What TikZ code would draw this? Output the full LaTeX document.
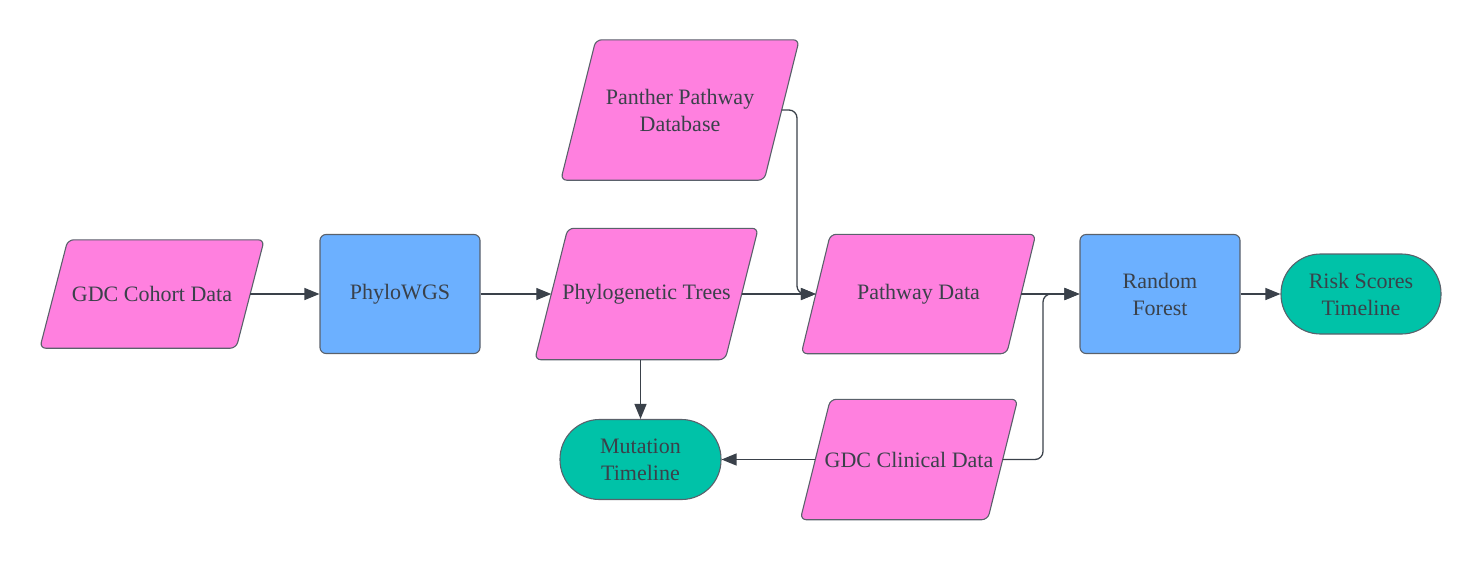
\documentclass[tikz,border=0pt]{standalone}
\usepackage{fontspec}
\setmainfont{Liberation Serif}
\usetikzlibrary{arrows.meta,backgrounds}
\definecolor{pinkc}{HTML}{FF80DF}
\definecolor{bluec}{HTML}{6CB0FF}
\definecolor{tealc}{HTML}{00C2A8}
\definecolor{bordc}{HTML}{5A616B}
\definecolor{textc}{HTML}{3A414A}
\definecolor{linec}{HTML}{3A414A}
\tikzset{
  base/.style={inner sep=0pt, align=center, text=textc,
    font=\fontsize{22}{27}\selectfont},
  outline/.style={draw=bordc, line width=1.1pt},
  databox/.style={base, rectangle},
  parafill/.style={outline, fill=pinkc, rounded corners=6pt},
  procbox/.style={base, outline, rectangle, fill=bluec, rounded corners=6pt, minimum width=160pt, minimum height=119pt},
  termbox/.style={base, outline, rectangle, fill=tealc, rounded corners=39.5pt, minimum width=160pt, minimum height=80pt},
  conn/.style={draw=linec, line width=1.3pt, -{Triangle[length=15pt,width=12pt]}},
}
\newcommand\parashape[2]{\path[parafill] ([xshift=#2/2]#1.north west) -- ([xshift=#2/2]#1.north east) -- ([xshift=-#2/2]#1.south east) -- ([xshift=-#2/2]#1.south west) -- cycle;}
\begin{document}
\begin{tikzpicture}[x=1pt,y=-1pt]
\useasboundingbox (0,0) rectangle (1482,560);
\node[databox, minimum width=196pt, minimum height=108pt] (coh) at (152,294) {GDC Cohort Data};
\node[procbox] (phy) at (400,294) {PhyloWGS};
\node[databox, minimum width=190pt, minimum height=131pt] (tree) at (646.5,294) {Phylogenetic Trees};
\node[databox, minimum width=203pt, minimum height=140pt] (pan) at (680,110) {Panther Pathway\\Database};
\node[databox, minimum width=205pt, minimum height=119pt] (path) at (918.5,294) {Pathway Data};
\node[databox, minimum width=187pt, minimum height=120pt] (clin) at (909,459.5) {GDC Clinical Data};
\node[procbox] (rf) at (1160,294) {Random\\Forest};
\node[termbox] (risk) at (1361,294) {Risk Scores\\Timeline};
\node[termbox, minimum width=161pt] (mut) at (640.5,459.5) {Mutation\\Timeline};
\begin{scope}[on background layer]
\parashape{coh}{28}
\parashape{tree}{33}
\parashape{pan}{35}
\parashape{path}{29}
\parashape{clin}{30}
\end{scope}
\coordinate (j1) at (797,294);
\coordinate (j2) at (1043,294);
\draw[conn] (coh.east) -- (phy.west);
\draw[conn] (phy.east) -- (tree.west);
\draw[conn] (tree.east) -- (path.west);
\draw[conn, rounded corners=8pt] (pan.east) -| (j1) [sharp corners] -- (path.west);
\draw[conn] (path.east) -- (rf.west);
\draw[conn, rounded corners=8pt] (clin.east) -| (j2) [sharp corners] -- (rf.west);
\draw[conn] (mut.north |- tree.south) -- (mut.north);
\draw[conn] (clin.west) -- (mut.east);
\draw[conn] (rf.east) -- (risk.west);
\end{tikzpicture}
\end{document}
